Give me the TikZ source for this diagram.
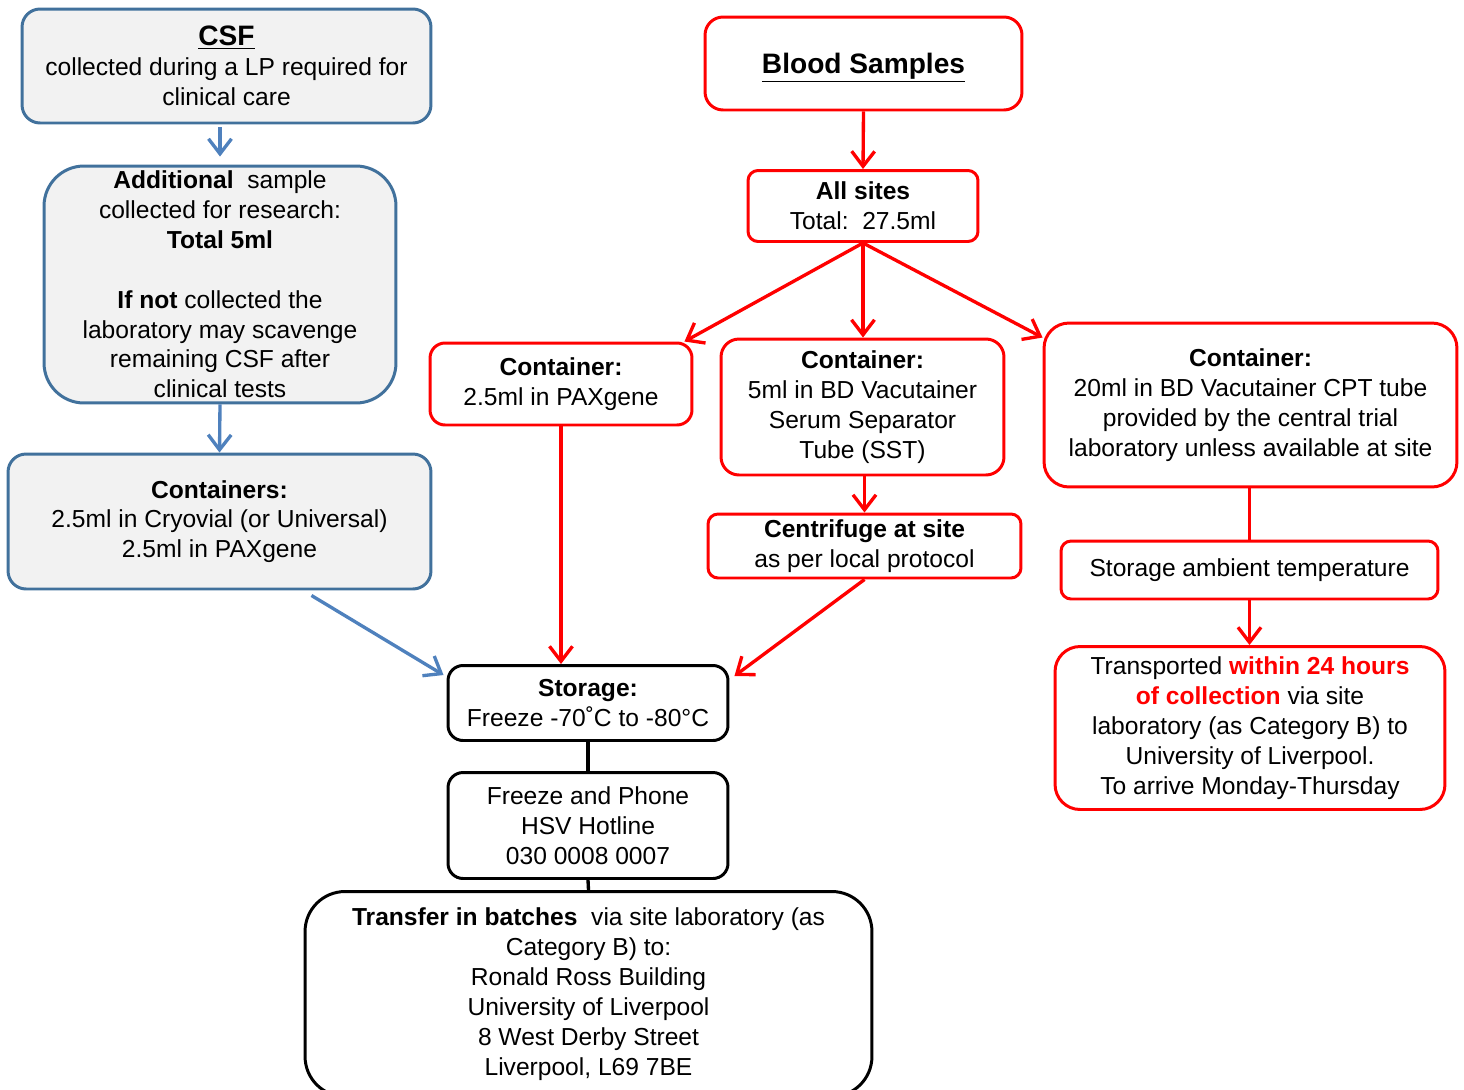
\documentclass[tikz,border=0pt]{standalone}
\usepackage{fontspec}
\setmainfont{Liberation Sans}
\usetikzlibrary{arrows.meta}

\definecolor{csfblue}{RGB}{65,113,156}
\definecolor{arrblue}{RGB}{79,129,189}
\definecolor{boxgrey}{RGB}{242,242,242}

\begin{document}
\begin{tikzpicture}[x=0.02cm, y=-0.02cm,
    every node/.style={align=center, inner sep=0pt, font=\fontsize{14}{17}\selectfont},
    csfbox/.style={draw=csfblue, fill=boxgrey, line width=1.7pt, rounded corners=0.36cm},
    bloodbox/.style={draw=red, fill=white, line width=1.7pt, rounded corners=0.36cm},
    frozenbox/.style={draw=black, fill=white, line width=1.7pt, rounded corners=0.3cm},
    bluearr/.style={draw=arrblue, line width=1.9pt, -{Straight Barb[length=0.3cm,width=0.46cm]}},
    redarr/.style={draw=red, line width=1.9pt, -{Straight Barb[length=0.3cm,width=0.46cm]}},
    redline/.style={draw=red, line width=1.9pt},
    blackline/.style={draw=black, line width=1.9pt}]

    \useasboundingbox (0,0) rectangle (1464,1089);

    % CSF column
    \node[csfbox, minimum width=8.18cm, minimum height=2.28cm] (csf) at (226.5,66)
        {{\fontsize{16}{17}\selectfont\bfseries\underline{CSF}}\\collected during a LP required for\\clinical care};
    \node[csfbox, rounded corners=0.8cm, minimum width=7.04cm, minimum height=4.74cm] (add) at (220,284.5)
        {\textbf{Additional}\ \ sample\\collected for research:\\\textbf{Total 5ml}\\[17pt]\textbf{If not} collected the\\laboratory may scavenge\\remaining CSF after\\clinical tests};
    \node[csfbox, minimum width=8.46cm, minimum height=2.7cm] (cont) at (219.5,521.5)
        {\textbf{Containers:}\\2.5ml in Cryovial (or Universal)\\2.5ml in PAXgene};

    % Blood column
    \node[bloodbox, text height=0.4cm, text depth=0cm, minimum width=6.34cm, minimum height=1.86cm] (blood) at (863.5,63.5)
        {\fontsize{16}{17}\selectfont\bfseries\underline{Blood Samples}};
    \node[bloodbox, rounded corners=0.2cm, minimum width=4.6cm, minimum height=1.42cm] (all) at (863,206)
        {\textbf{All sites}\\Total:\ \ 27.5ml};
    \node[bloodbox, rounded corners=0.3cm, minimum width=5.24cm, minimum height=1.64cm] (pax) at (561,384)
        {\textbf{Container:}\\2.5ml in PAXgene};
    \node[bloodbox, minimum width=5.66cm, minimum height=2.72cm] (sst) at (862.5,407)
        {\textbf{Container:}\\5ml in BD Vacutainer\\Serum Separator\\Tube (SST)};
    \node[bloodbox, rounded corners=0.5cm, minimum width=8.26cm, minimum height=3.28cm] (cpt) at (1250.5,405)
        {\textbf{Container:}\\20ml in BD Vacutainer CPT tube\\provided by the central trial\\laboratory unless available at site};
    \node[bloodbox, rounded corners=0.2cm, minimum width=6.26cm, minimum height=1.28cm] (centr) at (864.5,546)
        {\textbf{Centrifuge at site}\\as per local protocol};
    \node[bloodbox, rounded corners=0.2cm, minimum width=7.54cm, minimum height=1.16cm] (amb) at (1249.5,570)
        {Storage ambient temperature};
    \node[bloodbox, rounded corners=0.5cm, minimum width=7.8cm, minimum height=3.26cm] (trans) at (1250,728)
        {Transported \textcolor{red}{\textbf{within 24 hours}}\\\textcolor{red}{\textbf{of collection}} via site\\laboratory (as Category B) to\\University of Liverpool.\\To arrive Monday-Thursday};

    % Frozen samples
    \node[frozenbox, minimum width=5.6cm, minimum height=1.5cm] (stor) at (588,703)
        {\textbf{Storage:}\\Freeze -70˚C to -80°C};
    \node[frozenbox, minimum width=5.6cm, minimum height=2.12cm] (phone) at (588,825.5)
        {Freeze and Phone\\HSV Hotline\\030 0008 0007};
    \node[frozenbox, rounded corners=0.8cm, minimum width=11.34cm, minimum height=4.1cm] (transfer) at (588.5,994)
        {\textbf{Transfer in batches}\ \ via site laboratory (as\\Category B) to:\\Ronald Ross Building\\University of Liverpool\\8 West Derby Street\\Liverpool, L69 7BE};

    % Blue arrows
    \draw[bluearr, shorten <=0.06cm, shorten >=0.16cm] (add.north |- csf.south) -- (add.north);
    \draw[bluearr] (add.south) -- (cont.north);
    \draw[bluearr] ([xshift=1.84cm, yshift=-0.1cm]cont.south) -- ([yshift=-0.22cm, xshift=-0.06cm]stor.north west);

    % Red arrows
    \draw[redarr] (blood.south) -- (all.north);
    \draw[redarr] (all.south) -- ([xshift=-0.18cm]pax.north east);
    \draw[redarr] (all.south) -- (all.south |- sst.north);
    \draw[redarr] (all.south) -- ([yshift=-0.32cm]cpt.north west);
    \draw[redarr] (centr.north |- sst.south) -- (centr.north);
    \draw[redarr] (pax.south) -- (pax.south |- stor.north);
    \draw[redarr] (centr.south) -- ([yshift=-0.24cm, xshift=0.1cm]stor.north east);
    \draw[redline] (amb.north |- cpt.south) -- (amb.north);
    \draw[redarr] (amb.south) -- (amb.south |- trans.north);

    % Black lines
    \draw[blackline] (stor.south) -- (phone.north);
    \draw[blackline] (phone.south) -- (transfer.north);

\end{tikzpicture}
\end{document}
